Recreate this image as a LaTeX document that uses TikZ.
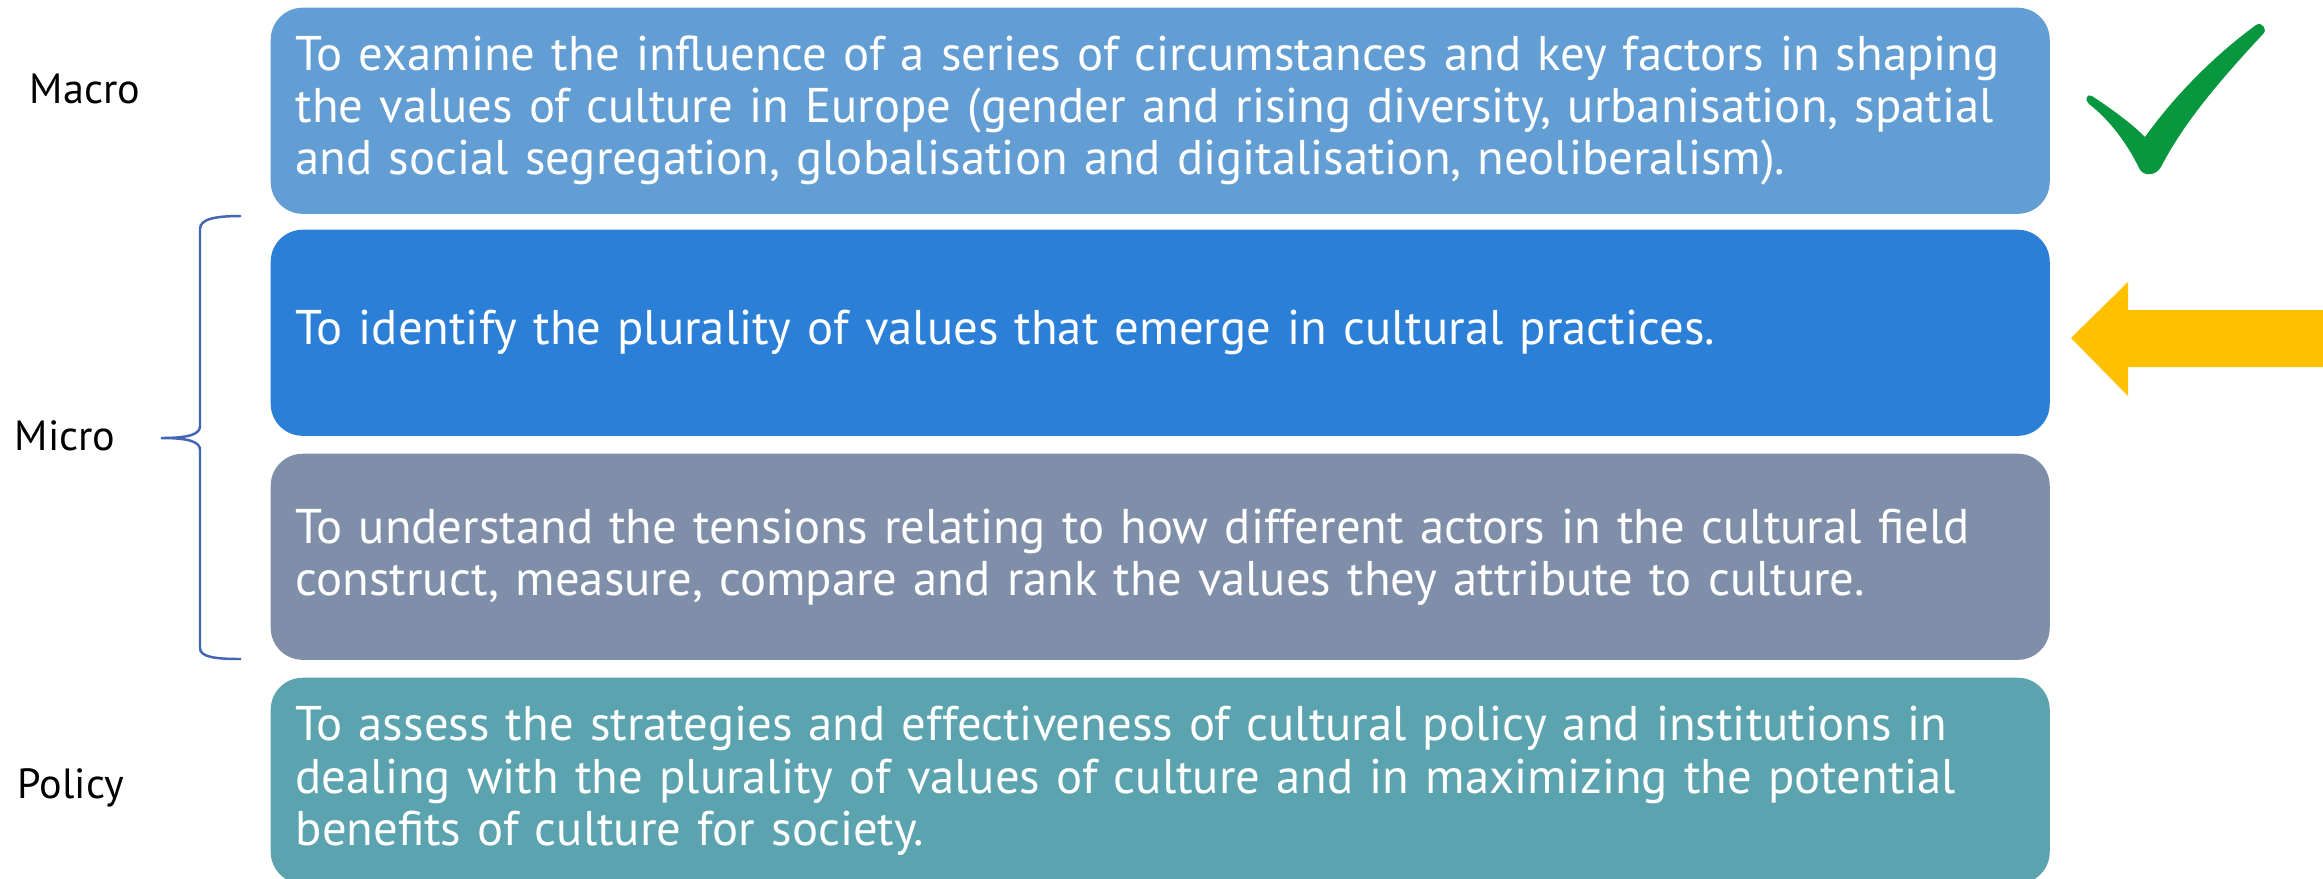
\documentclass[tikz,border=0pt]{standalone}
\usepackage{fontspec}
\setmainfont{PT Sans}
\definecolor{macroblue}{RGB}{98,158,211}
\definecolor{microblue}{RGB}{43,127,215}
\definecolor{microgray}{RGB}{127,143,169}
\definecolor{policyteal}{RGB}{91,163,175}
\definecolor{tickgreen}{RGB}{8,150,62}
\definecolor{arrowgold}{RGB}{255,192,0}
\definecolor{bracecol}{RGB}{68,100,180}
\tikzset{
  aimbox/.style={rounded corners=0.32cm, anchor=north west,
    minimum width=17.78cm, minimum height=2.06cm, text width=17.28cm,
    inner xsep=0.25cm, inner ysep=0pt, align=left, text=white,
    font=\fontsize{13.85pt}{14.8pt}\selectfont},
  aimtext/.style={anchor=west, inner sep=0pt, text width=17.28cm,
    align=left, text=white, font=\fontsize{13.85pt}{14.8pt}\selectfont},
  levellabel/.style={anchor=base west, inner sep=0pt,
    font=\fontsize{12pt}{13pt}\selectfont}
}
\begin{document}
\begin{tikzpicture}[x=0.01cm,y=-0.01cm]
\useasboundingbox (0,0) rectangle (2323,878);

% objective boxes
\node[aimbox, fill=macroblue] (macro) at (270,7)
  {To examine the influence of a series of circumstances and key factors in shaping\\
   the values of culture in Europe (gender and rising diversity, urbanisation, spatial\\
   and social segregation, globalisation and digitalisation, neoliberalism).};
\node[aimbox, fill=microblue] (micro1) at (270,229)
  {To identify the plurality of values that emerge in cultural practices.};
\node[aimbox, fill=microgray] (micro2) at (270,453)
  {To understand the tensions relating to how different actors in the cultural field\\
   construct, measure, compare and rank the values they attribute to culture.};
\node[aimbox, fill=policyteal] (policy) at (270,677)
  {To assess the strategies and effectiveness of cultural policy and institutions in\\
   dealing with the plurality of values of culture and in maximizing the potential\\
   benefits of culture for society.};

% level labels
\node[levellabel] (lmacro) at (29,103) {Macro};
\node[levellabel] (lmicro) at (14,450) {Micro};
\node[levellabel] (lpolicy) at (17,798) {Policy};

% brace grouping the two micro objectives
\coordinate (btop) at (241,216);
\coordinate (btip) at (161,438);
\coordinate (bbot) at (241,659);
\draw[bracecol, line width=0.7pt]
  (btop) .. controls (215,216) and (200,219) .. (200,229) -- (200,426)
  .. controls (200,434) and (190,438) .. (btip)
  .. controls (190,438) and (200,442) .. (200,450) -- (200,648)
  .. controls (200,657) and (215,659) .. (bbot);

% check mark
\fill[tickgreen]
  (2092,96) .. controls (2110,108) and (2130,122) .. (2145,137)
  .. controls (2175,95) and (2215,55) .. (2256,25)
  .. controls (2262,21) and (2268,30) .. (2263,34)
  .. controls (2225,75) and (2185,120) .. (2161,167)
  .. controls (2156,176) and (2143,177) .. (2139,168)
  .. controls (2128,145) and (2110,120) .. (2089,104)
  .. controls (2084,100) and (2087,93) .. (2092,96) -- cycle;

% block arrow pointing at the micro objective
\fill[arrowgold] (2071,338) -- (2128,282) -- (2128,310) -- (2330,310)
  -- (2330,367) -- (2128,367) -- (2128,396) -- cycle;
\end{tikzpicture}
\end{document}
